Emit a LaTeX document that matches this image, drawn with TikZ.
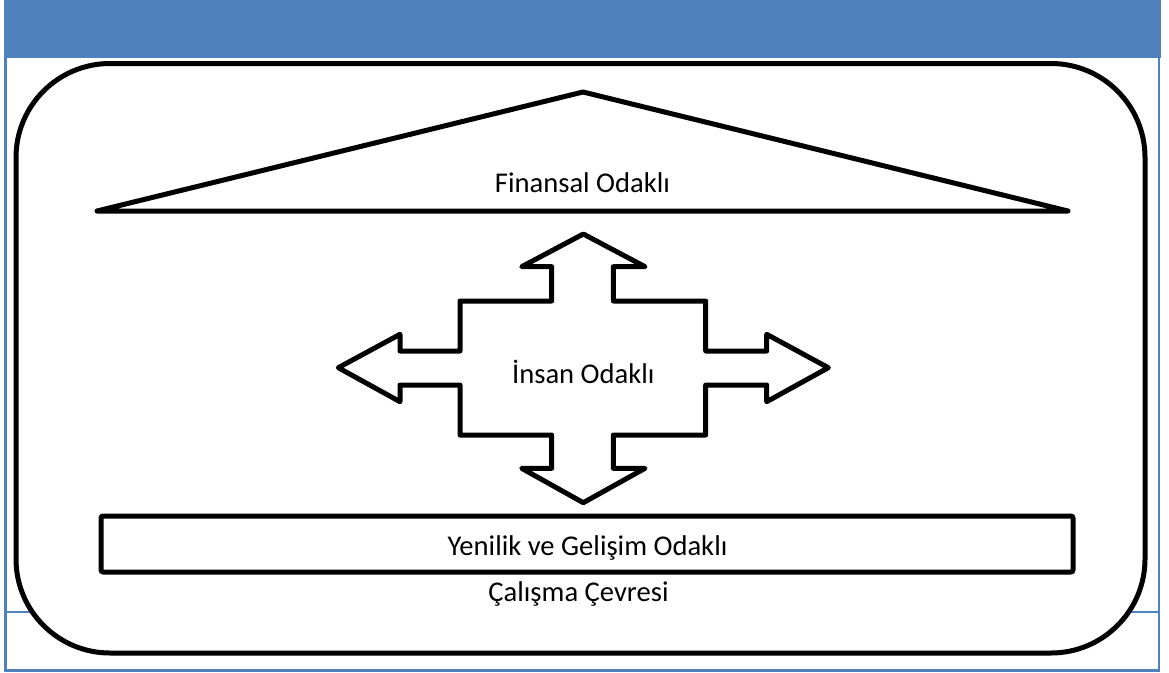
\documentclass[tikz,border=0pt]{standalone}
\usepackage{fontspec}
\setmainfont{Carlito}
\definecolor{frameblue}{RGB}{79,129,189}
\tikzset{
  outline/.style={draw=black, line width=5pt, line join=round, fill=white},
  frameline/.style={draw=frameblue, line width=2.6pt},
  label/.style={anchor=base, inner sep=0pt, font=\fontsize{28.6}{34}\selectfont}
}
\begin{document}
\begin{tikzpicture}[x=1pt, y=-1pt]
  \useasboundingbox (0,0) rectangle (1169,672);
  % page frame with header band
  \fill[frameblue] (4,0) rectangle (1161,58);
  \draw[frameline] (5.3,58) -- (5.3,670.3) -- (1159,670.3) -- (1159,58);
  \draw[frameline] (5.3,612) -- (1159,612);
  % working environment
  \draw[outline, rounded corners=94pt] (16,63.5) rectangle (1145,653);
  % finance roof
  \draw[outline] (97,211) -- (583,92) -- (1068,211) -- cycle;
  % innovation base
  \draw[outline, rounded corners=2pt] (101,516) rectangle (1073,572);
  % four-way arrow
  \draw[outline]
    (583.3,234) -- (645,266.7) -- (613.3,266.7) -- (613.3,301) -- (705.7,301)
    -- (705.7,351) -- (766.7,351) -- (766.7,334.3) -- (828.3,367.7)
    -- (766.7,401.7) -- (766.7,385) -- (705.7,385) -- (705.7,435)
    -- (613.3,435) -- (613.3,468.3) -- (645,468.3) -- (583.3,502.7)
    -- (521.7,468.3) -- (551.7,468.3) -- (551.7,435) -- (460,435)
    -- (460,385) -- (400,385) -- (400,401.7) -- (338.3,367.7)
    -- (400,334.3) -- (400,351) -- (460,351) -- (460,301)
    -- (551.7,301) -- (551.7,266.7) -- (521.7,266.7) -- cycle;
  % labels
  \node[label] (fin) at (582.5,192) {Finansal Odaklı};
  \node[label] (ins) at (583.3,383.3) {İnsan Odaklı};
  \node[label] (yen) at (587.5,555.7) {Yenilik ve Gelişim Odaklı};
  \node[label] (cal) at (578.5,601) {Çalışma Çevresi};
\end{tikzpicture}
\end{document}
